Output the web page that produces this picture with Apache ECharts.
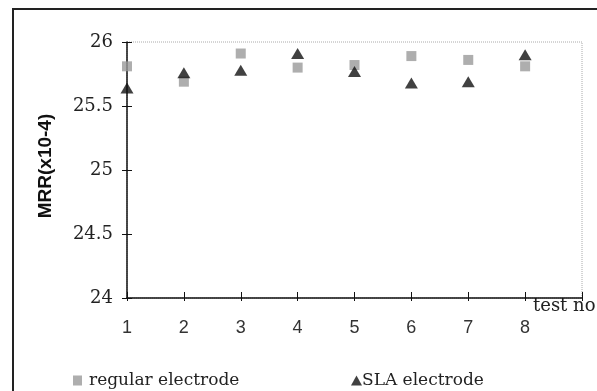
<!DOCTYPE html>
<html>
<head>
<meta charset="utf-8">
<script src="https://cdn.jsdelivr.net/npm/echarts@6/dist/echarts.min.js"></script>
<style>
  html, body { margin: 0; padding: 0; background: #fff; }
  #chart { width: 597px; height: 391px; }
</style>
</head>
<body>
<div id="chart"></div>
<script>
const testNo = [1, 2, 3, 4, 5, 6, 7, 8]
const regularMRR = [25.81, 25.69, 25.91, 25.80, 25.82, 25.89, 25.86, 25.81]
const slaMRR = [25.64, 25.76, 25.78, 25.91, 25.77, 25.68, 25.69, 25.90]
const seriesNames = ['regular electrode', 'SLA electrode']
const xAxisName = 'test no'
const yAxisName = 'MRR(x10-4)'

const serif = '"DejaVu Serif", "Liberation Serif", serif'
const sans = '"Liberation Sans", Arial, sans-serif'

const toPoints = (values) => testNo.map((t, i) => [t, values[i]])

const hideLast = (v) => (v >= 9 ? '' : String(v))

const chart = echarts.init(document.getElementById('chart'))

chart.setOption({
  animation: false,
  grid: {
    left: 127,
    right: 15,
    top: 42,
    bottom: 93,
    show: true,
    borderColor: '#aaa',
    borderWidth: 1,
    borderType: 'dotted'
  },
  xAxis: [
    {
      type: 'value',
      min: 1,
      max: 9,
      interval: 1,
      axisLine: { lineStyle: { color: '#111', width: 1.5 } },
      axisTick: { inside: true, length: 6, lineStyle: { color: '#111' } },
      axisLabel: {
        margin: 21,
        fontFamily: sans,
        fontSize: 18,
        color: '#333',
        formatter: hideLast
      },
      splitLine: { show: false }
    },
    {
      type: 'value',
      position: 'bottom',
      min: 1,
      max: 9,
      interval: 1,
      axisLine: { show: false },
      axisTick: { length: 3, lineStyle: { color: '#111' } },
      axisLabel: { show: false },
      splitLine: { show: false }
    }
  ],
  yAxis: [
    {
      type: 'value',
      min: 24,
      max: 26,
      interval: 0.5,
      axisLine: { show: true, lineStyle: { color: '#111', width: 1.5 } },
      axisTick: { show: true, inside: true, length: 5, lineStyle: { color: '#111' } },
      axisLabel: {
        margin: 14,
        fontFamily: serif,
        fontSize: 18,
        color: '#222'
      },
      splitLine: { show: false },
      name: yAxisName,
      nameLocation: 'middle',
      nameGap: 72,
      nameRotate: 90,
      nameTextStyle: {
        fontFamily: sans,
        fontSize: 19,
        fontWeight: 'bold',
        color: '#111',
        padding: [0, 0, 0, 8]
      }
    },
    {
      type: 'value',
      position: 'left',
      min: 24,
      max: 26,
      interval: 0.5,
      axisLine: { show: false },
      axisTick: { show: true, length: 5, lineStyle: { color: '#111' } },
      axisLabel: { show: false },
      splitLine: { show: false }
    }
  ],
  legend: [
    {
      data: [seriesNames[0]],
      left: 68,
      top: 367,
      itemWidth: 9,
      itemHeight: 10,
      itemGap: 0,
      textStyle: { fontFamily: serif, fontSize: 17, color: '#222', padding: [0, 0, 0, 2] }
    },
    {
      data: [seriesNames[1]],
      left: 346,
      top: 367,
      itemWidth: 11,
      itemHeight: 10,
      itemGap: 0,
      textStyle: { fontFamily: serif, fontSize: 17, color: '#222', padding: [0, 0, 0, -5] }
    }
  ],
  graphic: [
    {
      type: 'rect',
      shape: { x: 13, y: 9, width: 600, height: 400 },
      style: { fill: 'none', stroke: '#222', lineWidth: 2 },
      z: -1
    },
    {
      type: 'text',
      left: 533,
      top: 297,
      style: { text: xAxisName, font: '18px ' + serif, fill: '#222' }
    }
  ],
  series: [
    {
      name: seriesNames[0],
      type: 'scatter',
      symbol: 'rect',
      symbolSize: 10,
      itemStyle: { color: '#9a9a9a' },
      data: toPoints(regularMRR),
      z: 2
    },
    {
      name: seriesNames[1],
      type: 'scatter',
      symbol: 'triangle',
      symbolSize: [13, 11],
      itemStyle: { color: '#111' },
      data: toPoints(slaMRR),
      z: 3
    }
  ]
})
</script>
</body>
</html>
